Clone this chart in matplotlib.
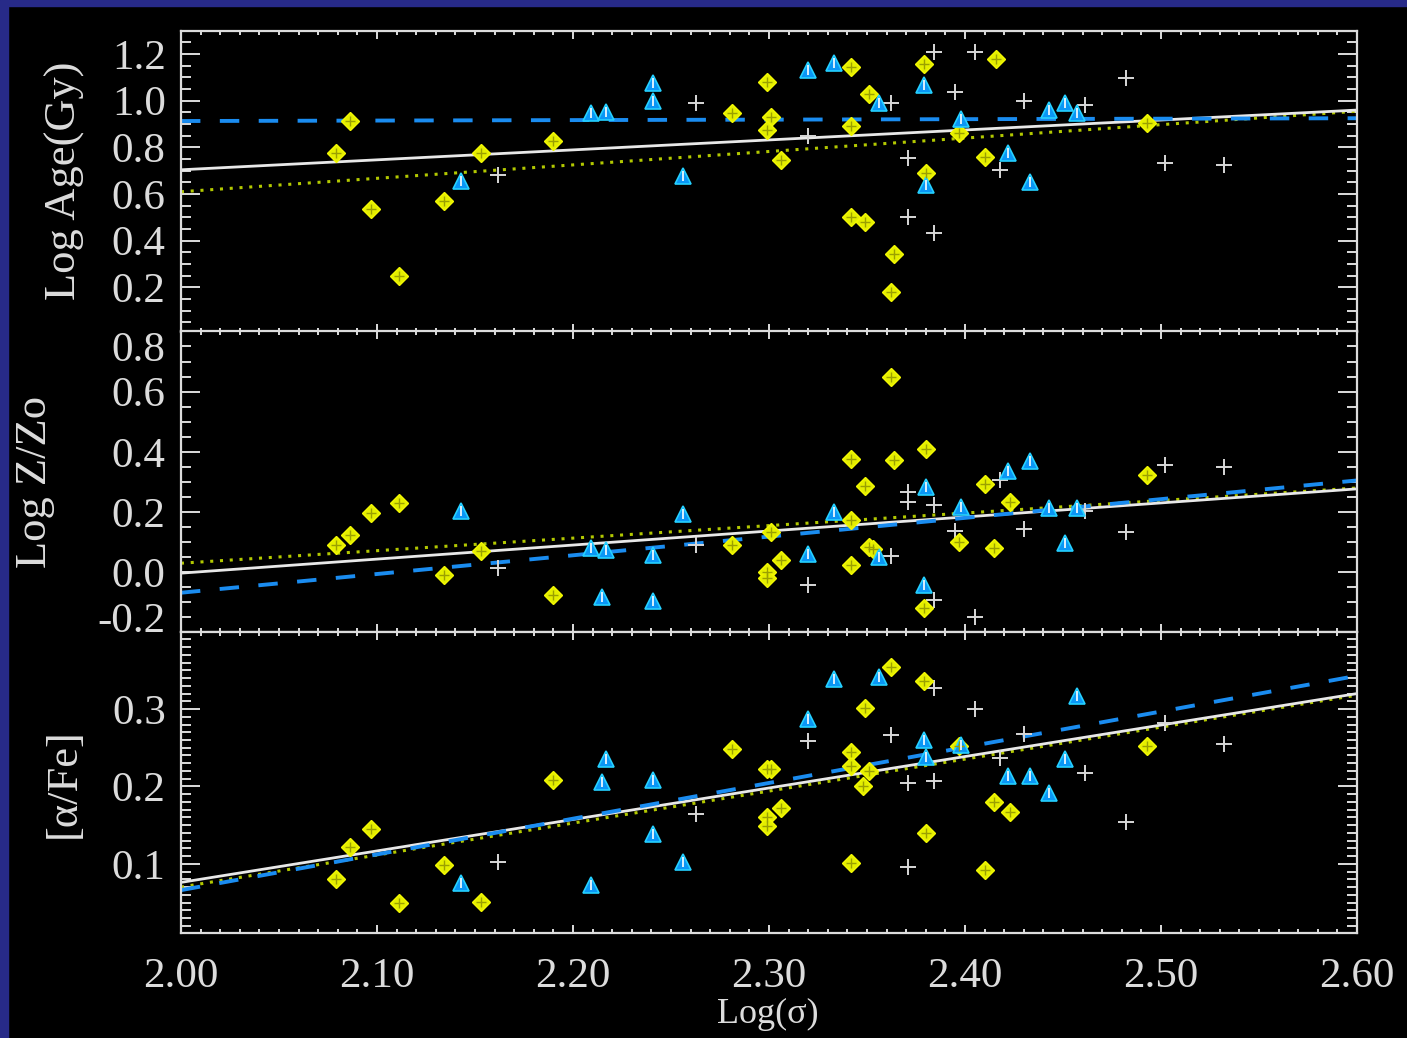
import numpy as np
import matplotlib.pyplot as plt
import matplotlib.transforms as mtransforms
from matplotlib.patches import Rectangle
from matplotlib.ticker import MultipleLocator, FuncFormatter

# ---- log(sigma) vs log age --------------------------------------------------
age_d_x = [2.079, 2.086, 2.097, 2.111, 2.134, 2.153, 2.190, 2.281, 2.299, 2.301,
           2.299, 2.306, 2.342, 2.351, 2.342, 2.342, 2.349, 2.364, 2.362, 2.379,
           2.380, 2.397, 2.410, 2.416, 2.493]
age_d_y = [0.776, 0.911, 0.538, 0.247, 0.569, 0.777, 0.829, 0.949, 1.082, 0.932,
           0.875, 0.747, 1.143, 1.029, 0.892, 0.502, 0.479, 0.344, 0.180, 1.156,
           0.690, 0.861, 0.759, 1.179, 0.904]
age_t_x = [2.143, 2.209, 2.217, 2.241, 2.241, 2.256, 2.320, 2.333, 2.356, 2.379,
           2.380, 2.398, 2.422, 2.433, 2.443, 2.451, 2.457]
age_t_y = [0.654, 0.948, 0.953, 1.076, 1.000, 0.679, 1.132, 1.163, 0.992, 1.068,
           0.640, 0.921, 0.776, 0.650, 0.961, 0.992, 0.947]
age_p_x = [2.162, 2.263, 2.320, 2.362, 2.371, 2.371, 2.384, 2.384, 2.395, 2.405,
           2.418, 2.430, 2.461, 2.482, 2.502, 2.532]
age_p_y = [0.683, 0.989, 0.847, 0.992, 0.754, 0.502, 1.207, 0.434, 1.039, 1.207,
           0.704, 1.000, 0.982, 1.096, 0.733, 0.723]

# ---- log Z/Zo ---------------------------------------------------------------
z_d_x = [2.079, 2.086, 2.097, 2.111, 2.134, 2.153, 2.190, 2.281, 2.299, 2.299,
         2.301, 2.306, 2.342, 2.342, 2.342, 2.349, 2.351, 2.353, 2.362, 2.364,
         2.379, 2.380, 2.397, 2.410, 2.415, 2.423, 2.493]
z_d_y = [0.090, 0.125, 0.198, 0.230, -0.009, 0.070, -0.077, 0.090, 0.000, -0.020,
         0.134, 0.040, 0.375, 0.172, 0.024, 0.286, 0.085, 0.076, 0.650, 0.372,
         -0.118, 0.409, 0.100, 0.292, 0.082, 0.235, 0.324]
z_t_x = [2.143, 2.209, 2.217, 2.215, 2.241, 2.241, 2.256, 2.320, 2.333, 2.356,
         2.379, 2.380, 2.398, 2.422, 2.433, 2.443, 2.451, 2.457]
z_t_y = [0.205, 0.079, 0.074, -0.083, 0.057, -0.097, 0.195, 0.059, 0.201, 0.052,
         -0.041, 0.283, 0.216, 0.337, 0.370, 0.212, 0.097, 0.214]
z_p_x = [2.162, 2.263, 2.320, 2.362, 2.371, 2.371, 2.384, 2.384, 2.395, 2.405,
         2.418, 2.430, 2.461, 2.482, 2.502, 2.532]
z_p_y = [0.013, 0.089, -0.041, 0.054, 0.266, 0.233, 0.224, -0.092, 0.136, -0.150,
         0.305, 0.145, 0.205, 0.134, 0.355, 0.348]

# ---- [alpha/Fe] -------------------------------------------------------------
a_d_x = [2.079, 2.086, 2.097, 2.111, 2.134, 2.153, 2.190, 2.281, 2.299, 2.299,
         2.299, 2.301, 2.306, 2.342, 2.342, 2.342, 2.349, 2.348, 2.351, 2.362,
         2.379, 2.380, 2.397, 2.410, 2.415, 2.423, 2.493]
a_d_y = [0.081, 0.122, 0.145, 0.049, 0.098, 0.051, 0.208, 0.249, 0.222, 0.160,
         0.149, 0.222, 0.172, 0.245, 0.226, 0.101, 0.301, 0.200, 0.220, 0.355,
         0.336, 0.140, 0.252, 0.092, 0.180, 0.167, 0.252]
a_t_x = [2.143, 2.209, 2.217, 2.215, 2.241, 2.241, 2.256, 2.320, 2.333, 2.356,
         2.379, 2.380, 2.398, 2.422, 2.433, 2.443, 2.451, 2.457]
a_t_y = [0.075, 0.073, 0.236, 0.206, 0.208, 0.139, 0.102, 0.287, 0.339, 0.341,
         0.260, 0.238, 0.253, 0.213, 0.213, 0.192, 0.236, 0.317]
a_p_x = [2.162, 2.263, 2.320, 2.362, 2.371, 2.371, 2.384, 2.384, 2.405, 2.418,
         2.430, 2.461, 2.482, 2.502, 2.532]
a_p_y = [0.102, 0.164, 0.259, 0.267, 0.205, 0.096, 0.207, 0.327, 0.300, 0.237,
         0.268, 0.217, 0.154, 0.282, 0.255]

# linear fits, value at log(sigma) = 2.0 and 2.6: all / triangles / diamonds
fit_x = [2.0, 2.6]
age_fit = {'all': [0.704, 0.960], 'tri': [0.913, 0.925], 'dia': [0.610, 0.955]}
z_fit = {'all': [-0.003, 0.277], 'tri': [-0.068, 0.305], 'dia': [0.030, 0.280]}
a_fit = {'all': [0.076, 0.320], 'tri': [0.066, 0.343], 'dia': [0.070, 0.318]}

panels = [
    (age_d_x, age_d_y, age_t_x, age_t_y, age_p_x, age_p_y, age_fit),
    (z_d_x, z_d_y, z_t_x, z_t_y, z_p_x, z_p_y, z_fit),
    (a_d_x, a_d_y, a_t_x, a_t_y, a_p_x, a_p_y, a_fit),
]
ylims = [(0.01, 1.30), (-0.2, 0.80), (0.01, 0.399)]
ymajor = [0.2, 0.2, 0.1]
yminor = [0.05, 0.05, 0.01]
ylabels = ['Log Age(Gy)', 'Log Z/Zo', '[α/Fe]']
ylab_x = [-0.099, -0.124, -0.100]

FG = '#dcdcdc'
YEL = '#e4ee00'
TRI = '#0a96f5'
TICKSIZE = 31

plt.rcParams['font.family'] = ['Liberation Serif', 'DejaVu Serif']

fig = plt.figure(figsize=(14.07, 10.38), dpi=100, facecolor='black')
# blue slide border
fig.patches.append(Rectangle((0, 0), 8 / 1407, 1, transform=fig.transFigure,
                             color='#272a88', zorder=0))
fig.patches.append(Rectangle((0, 1 - 6 / 1038), 1, 6 / 1038, transform=fig.transFigure,
                             color='#272a88', zorder=0))

left, width = 0.1286, 0.8359
bottoms = [0.6804, 0.3907, 0.1007]
height = 0.2900


def fmt_y(lo, hi):
    # labels sitting on the frame edge are drawn separately
    def f(v, p):
        if abs(v - lo) < 1e-6 or abs(v - hi) < 1e-6:
            return ''
        return '%.1f' % v
    return f


for i, (dx, dy, tx, ty, px, py, fit) in enumerate(panels):
    ax = fig.add_axes([left, bottoms[i], width, height], facecolor='black')

    ax.plot(fit_x, fit['dia'], ls=(0, (1, 2.2)), color='#b2c800', lw=2.2, zorder=2)
    ax.plot(fit_x, fit['all'], '-', color='#e8e8e8', lw=2.0, zorder=2)
    ax.plot(fit_x, fit['tri'], ls=(0, (5, 5)), color='#1a8cf0', lw=2.8, zorder=2)

    ax.plot(px, py, '+', color='#d8d8d8', ms=12, mew=1.4, ls='none', zorder=3)
    ax.plot(dx, dy, 'D', color=YEL, mec='#f2f800', ms=9.5, mew=1.0, ls='none', zorder=4)
    ax.plot(dx, dy, '+', color='#9aa000', ms=6.5, mew=1.0, ls='none', zorder=5)
    ax.plot(tx, ty, '^', color=TRI, mec='#25d0ff', ms=12, mew=1.2, ls='none', zorder=4)
    ax.plot(tx, ty, '|', color='white', ms=6.5, mew=1.2, ls='none', zorder=5)

    ax.set_xlim(2.0, 2.6)
    ax.set_ylim(*ylims[i])
    ax.xaxis.set_major_locator(MultipleLocator(0.1))
    ax.xaxis.set_minor_locator(MultipleLocator(0.01))
    ax.yaxis.set_major_locator(MultipleLocator(ymajor[i]))
    ax.yaxis.set_minor_locator(MultipleLocator(yminor[i]))

    for s in ax.spines.values():
        s.set_color(FG)
        s.set_linewidth(1.6)
    ax.tick_params(which='both', direction='in', top=True, right=True, colors=FG,
                   labelsize=TICKSIZE, width=1.4)
    ax.tick_params(axis='y', which='major', length=14, pad=11)
    ax.tick_params(axis='y', which='minor', length=7)
    ax.tick_params(axis='x', which='major', length=6, pad=17)
    ax.tick_params(axis='x', which='minor', length=3)

    if i == 1:
        lo, hi = ylims[i]
        ax.yaxis.set_major_formatter(FuncFormatter(fmt_y(lo, hi)))
        trans = mtransforms.blended_transform_factory(ax.transAxes, ax.transData)
        off_top = mtransforms.ScaledTranslation(-11 / 72, 0, fig.dpi_scale_trans)
        off_bot = mtransforms.ScaledTranslation(-11 / 72, -6 / 72, fig.dpi_scale_trans)
        ax.text(0, hi, '%.1f' % hi, transform=trans + off_top, ha='right', va='top',
                color=FG, fontsize=TICKSIZE)
        ax.text(0, lo, '%.1f' % lo, transform=trans + off_bot, ha='right', va='bottom',
                color=FG, fontsize=TICKSIZE)
    else:
        ax.yaxis.set_major_formatter(FuncFormatter(lambda v, p: '%.1f' % v))

    if i < 2:
        ax.tick_params(axis='x', labelbottom=False)
    else:
        ax.xaxis.set_major_formatter(FuncFormatter(lambda v, p: '%.2f' % v))
        ax.set_xlabel('Log(σ)', color=FG, fontsize=26, va='top')
        ax.xaxis.set_label_coords(0.499, -0.213)

    ax.set_ylabel(ylabels[i], color=FG, fontsize=32, va='center')
    ax.yaxis.set_label_coords(ylab_x[i], 0.5)

fig.savefig('out.png', dpi=100, facecolor='black')
